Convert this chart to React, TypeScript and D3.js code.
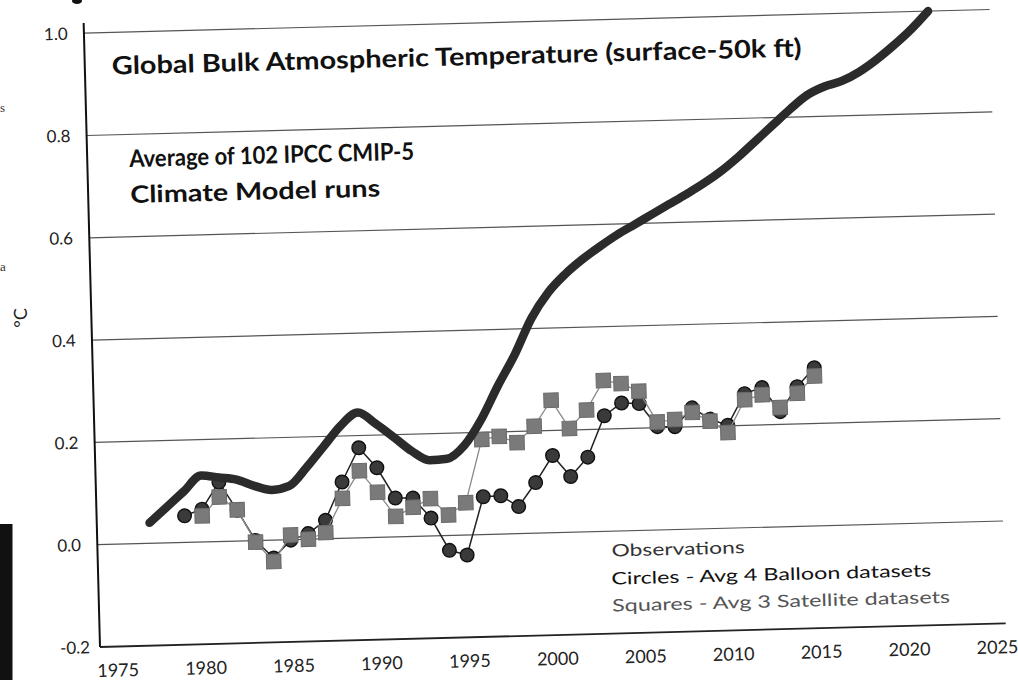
import * as d3 from "d3";

// model average (thick line)
const modelYears = [1977, 1978, 1979, 1980, 1981, 1982, 1983, 1984, 1985, 1986, 1987, 1988, 1989, 1990, 1991, 1992, 1993, 1994, 1995, 1996, 1997, 1998, 1999, 2000, 2001, 2002, 2003, 2004, 2005, 2006, 2007, 2008, 2009, 2010, 2011, 2012, 2013, 2014, 2015, 2016, 2017, 2018, 2019, 2020, 2021, 2022];
const modelValues = [0.04, 0.07, 0.10, 0.13, 0.125, 0.12, 0.107, 0.098, 0.105, 0.14, 0.18, 0.22, 0.245, 0.222, 0.195, 0.167, 0.148, 0.15, 0.175, 0.225, 0.29, 0.35, 0.42, 0.47, 0.505, 0.533, 0.557, 0.579, 0.598, 0.617, 0.636, 0.655, 0.675, 0.698, 0.725, 0.755, 0.785, 0.815, 0.842, 0.858, 0.868, 0.885, 0.908, 0.935, 0.965, 1.0];

// balloon average (circles)
const balloonYears = [1979, 1980, 1981, 1982, 1983, 1984, 1985, 1986, 1987, 1988, 1989, 1990, 1991, 1992, 1993, 1994, 1995, 1996, 1997, 1998, 1999, 2000, 2001, 2002, 2003, 2004, 2005, 2006, 2007, 2008, 2009, 2010, 2011, 2012, 2013, 2014, 2015];
const balloonValues = [0.052, 0.064, 0.116, 0.06, 0.0, -0.035, -0.001, 0.011, 0.036, 0.11, 0.176, 0.136, 0.076, 0.075, 0.035, -0.029, -0.039, 0.074, 0.075, 0.053, 0.099, 0.151, 0.109, 0.146, 0.226, 0.25, 0.248, 0.202, 0.201, 0.237, 0.214, 0.201, 0.262, 0.273, 0.225, 0.273, 0.309];

// satellite average (squares)
const satelliteYears = [1980, 1981, 1982, 1983, 1984, 1985, 1986, 1987, 1988, 1989, 1990, 1991, 1992, 1993, 1994, 1995, 1996, 1997, 1998, 1999, 2000, 2001, 2002, 2003, 2004, 2005, 2006, 2007, 2008, 2009, 2010, 2011, 2012, 2013, 2014, 2015];
const satelliteValues = [0.051, 0.087, 0.061, -0.003, -0.042, 0.009, 0.0, 0.012, 0.078, 0.131, 0.088, 0.04, 0.057, 0.073, 0.04, 0.063, 0.186, 0.191, 0.178, 0.209, 0.259, 0.203, 0.238, 0.295, 0.288, 0.272, 0.211, 0.215, 0.228, 0.21, 0.187, 0.25, 0.259, 0.233, 0.26, 0.293];

const yTicks = [1.0, 0.8, 0.6, 0.4, 0.2, 0.0, -0.2];
const xTicks = [1975, 1980, 1985, 1990, 1995, 2000, 2005, 2010, 2015, 2020, 2025];

const W = 1018;
const H = 680;
const FONT = "Lato, 'Noto Sans', sans-serif";

export default function App() {
  const x = d3.scaleLinear().domain([1974, 2025.5]).range([100, 1006]);
  const y = d3.scaleLinear().domain([-0.2, 1.0]).range([647, 33]);

  const model = modelYears.map((yr, i) => [yr, modelValues[i]] as [number, number]);
  const balloon = balloonYears.map((yr, i) => [yr, balloonValues[i]] as [number, number]);
  const sat = satelliteYears.map((yr, i) => [yr, satelliteValues[i]] as [number, number]);

  const smooth = d3
    .line<[number, number]>()
    .x((d) => x(d[0]))
    .y((d) => y(d[1]))
    .curve(d3.curveMonotoneX);
  const straight = d3
    .line<[number, number]>()
    .x((d) => x(d[0]))
    .y((d) => y(d[1]));

  const [x0, x1] = x.range();
  const sq = 14.5;

  return (
    <svg
      width={W}
      height={H}
      style={{ position: "absolute", left: 0, top: 0, background: "#fff" }}
      fontFamily={FONT}
    >
      {/* bits of the scanned page outside the chart */}
      <rect x={0} y={524} width={12.5} height={H - 524} fill="#111" />
      <text x={0} y={112} fontFamily="'Liberation Serif', serif" fontSize={13} fill="#333">s</text>
      <text x={0} y={271} fontFamily="'Liberation Serif', serif" fontSize={13} fill="#333">a</text>
      <ellipse cx={77} cy={1} rx={5} ry={3} fill="#111" />

      <g transform={`rotate(-1.5, 100, 647)`}>
        {/* grid */}
        {yTicks.filter((v) => v > -0.2).map((v) => (
          <line key={v} x1={x0} x2={x1} y1={y(v)} y2={y(v)} stroke="#555" strokeWidth={1.2} />
        ))}
        <line x1={x0} x2={x1} y1={y(-0.2)} y2={y(-0.2)} stroke="#222" strokeWidth={1.8} />
        <line x1={x0} x2={x0} y1={y(-0.2)} y2={y(1.02)} stroke="#111" strokeWidth={2} />

        {yTicks.map((v) => (
          <text key={v} x={60} y={y(v) + 6} fontSize={17} fill="#222">
            {v.toFixed(1)}
          </text>
        ))}
        {xTicks.map((t) => (
          <text key={t} x={x(t)} y={y(-0.2) + 30} fontSize={18} fill="#222" textAnchor="middle">
            {t}
          </text>
        ))}
        <text
          x={28.6}
          y={316}
          fontSize={18}
          fill="#222"
          textAnchor="middle"
          dominantBaseline="central"
          transform="rotate(-90, 28.6, 316)"
        >
          °C
        </text>

        {/* balloons */}
        <path d={straight(balloon) || ""} fill="none" stroke="#222" strokeWidth={1.5} />
        {balloon.map((d) => (
          <circle key={d[0]} cx={x(d[0])} cy={y(d[1])} r={6.8} fill="#3a3a3a" stroke="#111" strokeWidth={1.4} />
        ))}

        {/* satellites */}
        <path d={straight(sat) || ""} fill="none" stroke="#8a8a8a" strokeWidth={1.3} />
        {sat.map((d) => (
          <rect
            key={d[0]}
            x={x(d[0]) - sq / 2}
            y={y(d[1]) - sq / 2}
            width={sq}
            height={sq}
            fill="#7a7a7a"
            stroke="#6a6a6a"
            strokeWidth={1}
          />
        ))}

        {/* model */}
        <path
          d={smooth(model) || ""}
          fill="none"
          stroke="#2b2b2b"
          strokeWidth={8.5}
          strokeLinecap="round"
          strokeLinejoin="round"
        />

        {/* annotations */}
        <text x={127} y={75} fontSize={25} fontWeight={700} fill="#111" textLength={690} lengthAdjust="spacingAndGlyphs">
          Global Bulk Atmospheric Temperature (surface-50k ft)
        </text>
        <text x={142} y={168} fontSize={24} fontWeight={700} fill="#111" textLength={285} lengthAdjust="spacingAndGlyphs">
          Average of 102 IPCC CMIP-5
        </text>
        <text x={142} y={204} fontSize={24} fontWeight={700} fill="#111" textLength={250} lengthAdjust="spacingAndGlyphs">
          Climate Model runs
        </text>

        <text x={614} y={570} fontSize={17} fill="#333" textLength={133} lengthAdjust="spacingAndGlyphs">
          Observations
        </text>
        <text x={613} y={598} fontSize={17} fill="#111" textLength={320} lengthAdjust="spacingAndGlyphs">
          Circles - Avg 4 Balloon datasets
        </text>
        <text x={613} y={625} fontSize={17} fill="#555" textLength={338} lengthAdjust="spacingAndGlyphs">
          Squares - Avg 3 Satellite datasets
        </text>
      </g>
    </svg>
  );
}
